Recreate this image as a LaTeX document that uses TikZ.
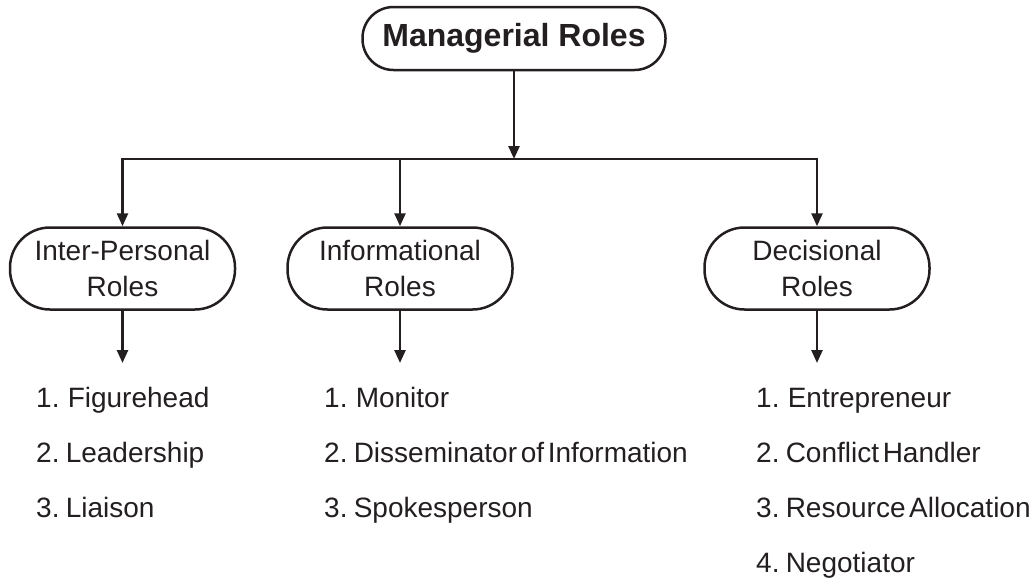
\documentclass[tikz,border=0pt]{standalone}
\usepackage{fontspec}
\setmainfont{Liberation Sans}
\usetikzlibrary{arrows.meta}
\definecolor{ink}{HTML}{231F20}
% list entries are set with narrow word spaces
\newcommand\listfont{\fontsize{28}{33}\selectfont\spaceskip=0.13em\relax}
\begin{document}
\begin{tikzpicture}[x=1pt,y=-1pt,
  ink/.style={draw=ink, line width=2.5pt},
  conn/.style={ink, -{Triangle[length=13pt,width=11pt]}},
  titlebox/.style={ink, rounded corners=31pt, minimum width=303pt, minimum height=63pt,
    inner sep=0pt, text=ink, font=\fontsize{32}{38}\selectfont\bfseries},
  rolebox/.style={ink, rounded corners=40pt, minimum width=225pt, minimum height=82pt,
    inner sep=0pt, text=ink, align=center, font=\fontsize{28}{36}\selectfont},
  item/.style={anchor=base west, inner sep=0pt, text=ink, font=\listfont}]
  \useasboundingbox (0,0) rectangle (1033,579);

  % heading
  \node[titlebox] (top) at (514,38.5) {Managerial Roles};

  % distribution bar
  \coordinate (barL) at (122.5,159);
  \coordinate (barM) at (400,159);
  \coordinate (barR) at (817,159);
  \coordinate (join) at (514,159);
  \draw[ink, line cap=rect] (barL) -- (barR);
  \draw[conn] (top.south) -- (join);

  % the three groups of roles
  \node[rolebox] (ip) at (122.5,268.5) {Inter-Personal\\Roles};
  \node[rolebox] (inf) at (400,268.5) {Informational\\Roles};
  \node[rolebox] (dec) at (817,268.5) {Decisional\\Roles};

  \draw[conn] (barL) -- (ip.north);
  \draw[conn] (barM) -- (inf.north);
  \draw[conn] (barR) -- (dec.north);

  \coordinate (ipEnd) at (122.5,363);
  \coordinate (infEnd) at (400,363);
  \coordinate (decEnd) at (817,363);
  \draw[conn] (ip.south) -- (ipEnd);
  \draw[conn] (inf.south) -- (infEnd);
  \draw[conn] (dec.south) -- (decEnd);

  % inter-personal roles
  \node[item] (ip1) at (36,407) {1.\hspace{2pt} Figurehead};
  \node[item] (ip2) at (36,462) {2. Leadership};
  \node[item] (ip3) at (36,517) {3. Liaison};

  % informational roles
  \node[item] (inf1) at (324,407) {1.\hspace{2pt} Monitor};
  \node[item] (inf2) at (324,462) {2. Disseminator of Information};
  \node[item] (inf3) at (324,517) {3. Spokesperson};

  % decisional roles
  \node[item] (dec1) at (756,407) {1.\hspace{2pt} Entrepreneur};
  \node[item] (dec2) at (756,462) {2. Conflict Handler};
  \node[item] (dec3) at (756,517) {3. Resource Allocation};
  \node[item] (dec4) at (756,572) {4. Negotiator};
\end{tikzpicture}
\end{document}
